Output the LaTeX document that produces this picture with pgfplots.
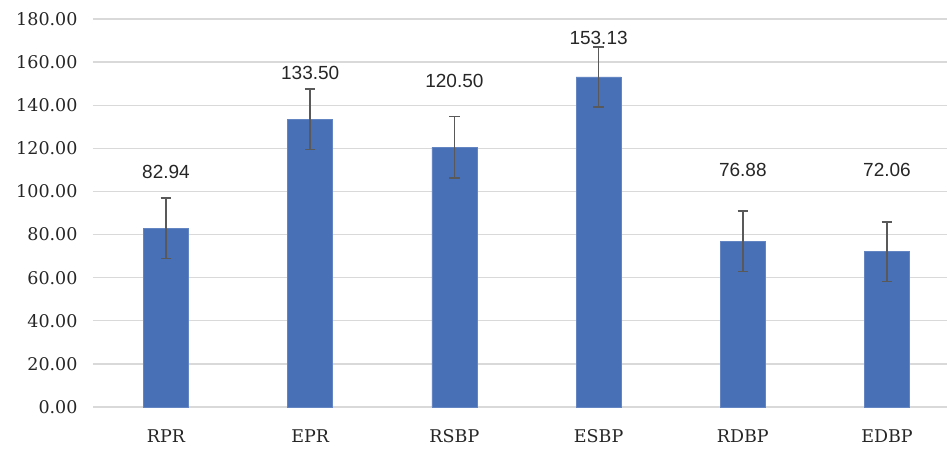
\documentclass[border=0pt]{standalone}
\usepackage{pgfplots}
\pgfplotsset{compat=1.18}
\usepackage{pgfplotstable}
\usepackage{fontspec}
\setmainfont{DejaVu Serif}
\newfontfamily\lblfont{Liberation Sans}
\definecolor{barblue}{HTML}{4870B6}
\definecolor{gridgray}{HTML}{D9D9D9}
\definecolor{errgray}{HTML}{595959}
\definecolor{txtgray}{HTML}{262626}
\pgfplotstableread{
x val err
0 82.94 14.0
1 133.50 14.1
2 120.50 14.2
3 153.13 13.9
4 76.88 14.0
5 72.06 13.9
}\datatable
\pgfplotstableread{
x ly label
0 109.2 82.94
1 155.1 133.50
2 151.3 120.50
3 171.2 153.13
4 109.9 76.88
5 109.9 72.06
}\labeltable
\begin{document}
\begin{tikzpicture}
\begin{axis}[
  scale only axis,
  width=854bp, height=388bp,
  xmin=-0.506, xmax=5.416,
  ymin=0, ymax=180,
  ytick={0,20,...,180},
  xtick={0,1,2,3,4,5},
  xticklabels={RPR,EPR,RSBP,ESBP,RDBP,EDBP},
  axis line style={draw=none},
  tick style={draw=none},
  ymajorgrids,
  grid style={gridgray, line width=1.3bp},
  yticklabel style={font=\fontsize{17.5bp}{20bp}\selectfont, xshift=-12bp, text=txtgray},
  xticklabel style={font=\fontsize{17.5bp}{20bp}\selectfont, yshift=-19bp, text=txtgray},
  /pgf/number format/assume math mode=true,
  /pgf/number format/.cd, fixed, fixed zerofill, precision=2,
  /pgfplots/.cd,
  clip=false,
]
\addplot[ybar, bar width=45bp, fill=barblue, draw=barblue!85!white, line width=0.6bp,
  error bars/.cd, y dir=both, y explicit,
  error bar style={errgray, line width=1.6bp},
  error mark options={rotate=90, mark size=5.3bp, errgray, line width=1.6bp}]
  table[x=x, y=val, y error=err] {\datatable};
\addplot[draw=none, mark=none, nodes near coords, point meta=explicit symbolic,
  nodes near coords style={font=\lblfont\fontsize{19bp}{22bp}\selectfont, anchor=center, inner sep=0pt, text=txtgray}]
  table[x=x, y=ly, meta=label] {\labeltable};
\end{axis}
\pgfresetboundingbox
\path ([xshift=-93bp,yshift=-46bp]current axis.south west) rectangle ([yshift=19bp]current axis.north east);
\end{tikzpicture}
\end{document}
